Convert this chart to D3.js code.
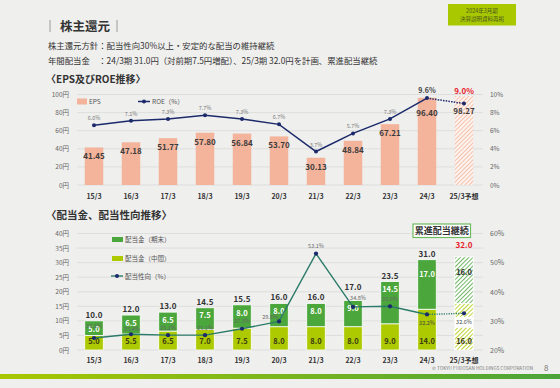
<!DOCTYPE html>
<html>
<head>
<meta charset="utf-8">
<script src="https://cdn.jsdelivr.net/npm/d3@7"></script>
<style>
  body { margin: 0; background: #efefee; }
  svg { display: block; font-family: "Noto Sans CJK JP", "Noto Sans", sans-serif; }
</style>
</head>
<body>
<svg id="chart" width="560" height="388"></svg>
<script>
// ---- data ----
var years = ["15/3", "16/3", "17/3", "18/3", "19/3", "20/3", "21/3", "22/3", "23/3", "24/3", "25/3予想"];
var eps = [41.45, 47.18, 51.77, 57.80, 56.84, 53.70, 30.13, 48.84, 67.21, 96.40, 98.27];
var roe = [6.6, 7.1, 7.3, 7.7, 7.3, 6.7, 3.7, 5.7, 7.3, 9.6, 9.0];
var divMid = [5.0, 5.5, 6.5, 7.0, 7.5, 8.0, 8.0, 8.0, 9.0, 14.0, 16.0];
var divEnd = [5.0, 6.5, 6.5, 7.5, 8.0, 8.0, 8.0, 9.0, 14.5, 17.0, 16.0];
var divTotal = [10.0, 12.0, 13.0, 14.5, 15.5, 16.0, 16.0, 17.0, 23.5, 31.0, 32.0];
var payout = [24.1, 25.4, 25.1, 25.1, 27.3, 29.8, 53.1, 34.8, 35.0, 32.2, 32.6];
var epsTicks = [0, 20, 40, 60, 80, 100];
var roeTicks = [0, 2, 4, 6, 8, 10];
var divTicks = [0, 5, 10, 15, 20, 25, 30, 35, 40];
var payoutTicks = [20, 30, 40, 50, 60];

var salmon = "#f4b49b", navy = "#1b2a6b", green = "#4ba63c", lime = "#adc900", teal = "#2b7b68";
var last = years.length - 1;

var svg = d3.select("#chart");
var defs = svg.append("defs");

function hatch(id, color, bg) {
    var p = defs.append("pattern").attr("id", id)
        .attr("patternUnits", "userSpaceOnUse")
        .attr("width", 3).attr("height", 3)
        .attr("patternTransform", "rotate(45)");
    p.append("rect").attr("width", 3).attr("height", 3).attr("fill", bg);
    p.append("line").attr("x1", 0).attr("y1", 0).attr("x2", 0).attr("y2", 3)
        .attr("stroke", color).attr("stroke-width", 1.6);
}
hatch("hSalmon", salmon, "#fdf3ee");
hatch("hGreen", green, "#ffffff");
hatch("hLime", lime, "#ffffff");

var grad = defs.append("linearGradient").attr("id", "footGrad");
grad.append("stop").attr("offset", "0%").attr("stop-color", "#a9c700");
grad.append("stop").attr("offset", "100%").attr("stop-color", "#4aa33a");

// ---- header ----
svg.append("line").attr("x1", 50).attr("x2", 50).attr("y1", 20).attr("y2", 32).attr("stroke", "#888").attr("stroke-width", 0.8);
svg.append("line").attr("x1", 117).attr("x2", 117).attr("y1", 20).attr("y2", 32).attr("stroke", "#888").attr("stroke-width", 0.8);
svg.append("text").attr("x", 60).attr("y", 30.5).attr("font-size", 12.5).attr("font-weight", "bold").attr("fill", "#333").text("株主還元");

svg.append("rect").attr("x", 448).attr("y", 4).attr("width", 68).attr("height", 21.5).attr("fill", "#a9c800");
svg.append("text").attr("x", 482).attr("y", 12.5).attr("text-anchor", "middle").attr("font-size", 5.5).attr("fill", "#4d5a1e").text("2024年3月期");
svg.append("text").attr("x", 482).attr("y", 21).attr("text-anchor", "middle").attr("font-size", 5.5).attr("fill", "#4d5a1e").text("決算説明資料再掲");

svg.append("text").attr("x", 48).attr("y", 49).attr("font-size", 8.4).attr("fill", "#333")
    .text("株主還元方針：配当性向30%以上・安定的な配当の維持継続");
svg.append("text").attr("x", 48).attr("y", 63.5).attr("font-size", 8.4).attr("fill", "#333")
    .text("年間配当金　：24/3期 31.0円（対前期7.5円増配）、25/3期 32.0円を計画、累進配当継続");

svg.append("text").attr("x", 46).attr("y", 83).attr("font-size", 10).attr("font-weight", "bold").attr("fill", "#333")
    .text("〈EPS及びROE推移〉");
svg.append("text").attr("x", 46).attr("y", 219).attr("font-size", 10.5).attr("font-weight", "bold").attr("fill", "#333")
    .text("〈配当金、配当性向推移〉");

// ---- shared x ----
var x = d3.scaleBand().domain(years).range([75.5, 482.5]).paddingInner(0.5).paddingOuter(0.25);
var bw = x.bandwidth();
function cx(d) { return x(d) + bw / 2; }

function styleAxis(g, size, color, bold) {
    g.select(".domain").remove();
    g.selectAll("text").attr("font-size", size).attr("fill", color)
        .attr("font-family", "\"Noto Sans CJK JP\", sans-serif")
        .attr("font-weight", bold ? "bold" : "normal");
}

// ================= EPS / ROE =================
var yE = d3.scaleLinear().domain([0, 100]).range([185, 94.5]);
var yR = d3.scaleLinear().domain([0, 10]).range([185, 94.5]);

svg.append("g").selectAll("line").data(epsTicks).enter().append("line")
    .attr("x1", 77).attr("x2", 483)
    .attr("y1", function(d) { return yE(d); }).attr("y2", function(d) { return yE(d); })
    .attr("stroke", "#d9d9d9").attr("stroke-width", 0.8);

svg.append("g").attr("transform", "translate(76,0)")
    .call(d3.axisLeft(yE).tickValues(epsTicks).tickSize(0).tickPadding(7).tickFormat(function(d) { return d + "円"; }))
    .call(styleAxis, 6.5, "#666", false);
svg.append("g").attr("transform", "translate(483,0)")
    .call(d3.axisRight(yR).tickValues(roeTicks).tickSize(0).tickPadding(7).tickFormat(function(d) { return d + "%"; }))
    .call(styleAxis, 6.5, "#666", false);
svg.append("g").attr("transform", "translate(0,185)")
    .call(d3.axisBottom(x).tickSize(0).tickPadding(9))
    .call(styleAxis, 7, "#333", true);

svg.append("g").selectAll("rect").data(years).enter().append("rect")
    .attr("x", function(d) { return x(d); })
    .attr("y", function(d, i) { return yE(eps[i]); })
    .attr("width", bw)
    .attr("height", function(d, i) { return yE(0) - yE(eps[i]); })
    .attr("fill", function(d, i) { return i === last ? "url(#hSalmon)" : salmon; });

svg.append("g").selectAll("text").data(years).enter().append("text")
    .attr("x", cx)
    .attr("y", function(d, i) {
        var top = yE(eps[i]), p = yR(roe[i]);
        var c = (p > top - 3 && p - top < 12) ? top + 15 : top + 9;
        return c + 3;
    })
    .attr("text-anchor", "middle").attr("font-size", 8).attr("font-weight", "bold").attr("fill", "#3c3c3c")
    .text(function(d, i) { return eps[i].toFixed(2); });

var roeLine = d3.line().x(function(d) { return cx(d); }).y(function(d) { return yR(roe[years.indexOf(d)]); });
svg.append("path").datum(years.slice(0, last)).attr("d", roeLine)
    .attr("fill", "none").attr("stroke", navy).attr("stroke-width", 1.5);
svg.append("path").datum(years.slice(last - 1)).attr("d", roeLine)
    .attr("fill", "none").attr("stroke", navy).attr("stroke-width", 1.5).attr("stroke-dasharray", "1.5,1.2");
svg.append("g").selectAll("circle").data(years).enter().append("circle")
    .attr("cx", cx).attr("cy", function(d, i) { return yR(roe[i]); }).attr("r", 2).attr("fill", navy);

svg.append("g").selectAll("text").data(years).enter().append("text")
    .attr("x", cx)
    .attr("y", function(d, i) {
        if (i === last) return Math.min(yR(roe[i]) - 9, yE(eps[i]) - 5) + 3;
        return yR(roe[i]) - 7 + 2;
    })
    .attr("text-anchor", "middle")
    .attr("font-size", function(d, i) { return i === last ? 8 : (i === last - 1 ? 7 : 5.5); })
    .attr("font-weight", function(d, i) { return i >= last - 1 ? "bold" : "normal"; })
    .attr("fill", function(d, i) { return i === last ? "#e8202a" : (i === last - 1 ? "#444" : "#777"); })
    .text(function(d, i) { return roe[i].toFixed(1) + "%"; });

// legend
svg.append("rect").attr("x", 77).attr("y", 98.5).attr("width", 10).attr("height", 6).attr("fill", salmon);
svg.append("text").attr("x", 89).attr("y", 104).attr("font-size", 6.5).attr("fill", "#555").text("EPS");
svg.append("line").attr("x1", 138).attr("x2", 150).attr("y1", 101.5).attr("y2", 101.5).attr("stroke", navy).attr("stroke-width", 1.5);
svg.append("circle").attr("cx", 144).attr("cy", 101.5).attr("r", 2).attr("fill", navy);
svg.append("text").attr("x", 152).attr("y", 104).attr("font-size", 6.5).attr("fill", "#555").text("ROE（%）");

// ================= Dividend / payout =================
var yD = d3.scaleLinear().domain([0, 40]).range([350, 233.5]);
var yP = d3.scaleLinear().domain([20, 60]).range([350, 233.5]);

svg.append("g").selectAll("line").data(divTicks).enter().append("line")
    .attr("x1", 77).attr("x2", 483)
    .attr("y1", function(d) { return yD(d); }).attr("y2", function(d) { return yD(d); })
    .attr("stroke", "#d9d9d9").attr("stroke-width", 0.8);

svg.append("g").attr("transform", "translate(76,0)")
    .call(d3.axisLeft(yD).tickValues(divTicks).tickSize(0).tickPadding(7).tickFormat(function(d) { return d + "円"; }))
    .call(styleAxis, 6.5, "#666", false);
svg.append("g").attr("transform", "translate(483,0)")
    .call(d3.axisRight(yP).tickValues(payoutTicks).tickSize(0).tickPadding(7).tickFormat(function(d) { return d + "%"; }))
    .call(styleAxis, 7, "#666", false);
svg.append("g").attr("transform", "translate(0,350)")
    .call(d3.axisBottom(x).tickSize(0).tickPadding(8))
    .call(styleAxis, 7, "#333", true);

var bars = svg.append("g");
bars.selectAll("rect.mid").data(years).enter().append("rect").attr("class", "mid")
    .attr("x", function(d) { return x(d); })
    .attr("y", function(d, i) { return yD(divMid[i]); })
    .attr("width", bw)
    .attr("height", function(d, i) { return yD(0) - yD(divMid[i]); })
    .attr("fill", function(d, i) { return i === last ? "url(#hLime)" : lime; })
    .attr("stroke", "#fff").attr("stroke-width", 0.8);
bars.selectAll("rect.end").data(years).enter().append("rect").attr("class", "end")
    .attr("x", function(d) { return x(d); })
    .attr("y", function(d, i) { return yD(divTotal[i]); })
    .attr("width", bw)
    .attr("height", function(d, i) { return yD(divMid[i]) - yD(divTotal[i]); })
    .attr("fill", function(d, i) { return i === last ? "url(#hGreen)" : green; })
    .attr("stroke", "#fff").attr("stroke-width", 0.8);

// progressive dividend box
svg.append("rect").attr("x", 413).attr("y", 224).attr("width", 57.5).attr("height", 13.5)
    .attr("fill", "#fff").attr("stroke", "#6dbb5e").attr("stroke-width", 1.2);
svg.append("text").attr("x", 441.7).attr("y", 234.2).attr("text-anchor", "middle")
    .attr("font-size", 9).attr("font-weight", "bold").attr("fill", "#333").text("累進配当継続");

// total labels
svg.append("g").selectAll("text").data(years).enter().append("text")
    .attr("x", cx)
    .attr("y", function(d, i) {
        var off = i === last ? 12 : (i === 7 ? 13 : 6);
        return yD(divTotal[i]) - off + 3;
    })
    .attr("text-anchor", "middle").attr("font-size", 8).attr("font-weight", "bold")
    .attr("fill", function(d, i) { return i === last ? "#e8202a" : "#333"; })
    .text(function(d, i) { return divTotal[i].toFixed(1); });

// year-end labels
svg.append("g").selectAll("text").data(years).enter().append("text")
    .attr("x", cx)
    .attr("y", function(d, i) { return yD(divTotal[i]) + (i >= last - 1 ? 15 : 8) + 2.7; })
    .attr("text-anchor", "middle").attr("font-size", 7.5).attr("font-weight", "bold")
    .attr("fill", function(d, i) { return i === last ? "#333" : "#fff"; })
    .text(function(d, i) { return divEnd[i].toFixed(1); });

// interim labels
svg.append("g").selectAll("text").data(years).enter().append("text")
    .attr("x", cx)
    .attr("y", yD(0) - 8.5 + 2.7)
    .attr("text-anchor", "middle").attr("font-size", 7.5).attr("font-weight", "bold").attr("fill", "#3a3a10")
    .text(function(d, i) { return divMid[i].toFixed(1); });

// payout line
var payLine = d3.line().x(function(d) { return cx(d); }).y(function(d) { return yP(payout[years.indexOf(d)]); });
svg.append("path").datum(years.slice(0, last)).attr("d", payLine)
    .attr("fill", "none").attr("stroke", teal).attr("stroke-width", 1.4);
svg.append("path").datum(years.slice(last - 1)).attr("d", payLine)
    .attr("fill", "none").attr("stroke", teal).attr("stroke-width", 1.4).attr("stroke-dasharray", "1.2,1.2");
svg.append("g").selectAll("circle").data(years).enter().append("circle")
    .attr("cx", cx).attr("cy", function(d, i) { return yP(payout[i]); }).attr("r", 2.1).attr("fill", navy);

// payout labels
function payPos(i) {
    var px = cx(years[i]), py = yP(payout[i]);
    if (i === 0) return [px, py - 12, "middle"];
    if (i === 1) return [px + 1, py - 5, "middle"];
    if (i === 5) return [px - 1, py - 4, "end"];
    if (i === 7) return [px + 5, py - 9, "middle"];
    if (i >= last - 1) return [px, py + 9, "middle"];
    return [px, py - 7.5, "middle"];
}
var pl = svg.append("g");
pl.append("rect").attr("x", cx(years[last]) - 9).attr("y", payPos(last)[1] - 5.5)
    .attr("width", 18).attr("height", 11).attr("fill", "#fff");
pl.selectAll("text").data(years).enter().append("text")
    .attr("x", function(d, i) { return payPos(i)[0]; })
    .attr("y", function(d, i) { return payPos(i)[1] + 2; })
    .attr("text-anchor", function(d, i) { return payPos(i)[2]; })
    .attr("font-size", 5.5)
    .attr("fill", function(d, i) { return i >= last - 1 ? "#444" : "#666"; })
    .text(function(d, i) { return payout[i].toFixed(1) + "%"; });

// legend
svg.append("rect").attr("x", 112).attr("y", 237).attr("width", 11).attr("height", 5).attr("fill", green);
svg.append("text").attr("x", 125).attr("y", 242).attr("font-size", 6.5).attr("fill", "#555").text("配当金（期末）");
svg.append("rect").attr("x", 112).attr("y", 256).attr("width", 11).attr("height", 5).attr("fill", lime);
svg.append("text").attr("x", 125).attr("y", 261).attr("font-size", 6.5).attr("fill", "#555").text("配当金（中間）");
svg.append("line").attr("x1", 111).attr("x2", 123).attr("y1", 276).attr("y2", 276).attr("stroke", teal).attr("stroke-width", 1.4);
svg.append("circle").attr("cx", 117).attr("cy", 276).attr("r", 2).attr("fill", navy);
svg.append("text").attr("x", 125).attr("y", 278.5).attr("font-size", 6.5).attr("fill", "#555").text("配当性向（%）");

// ---- footer ----
svg.append("text").attr("x", 432).attr("y", 369.5).attr("font-size", 4.6).attr("fill", "#777")
    .attr("textLength", 101).text("© TOKYU FUDOSAN HOLDINGS CORPORATION");
svg.append("text").attr("x", 544).attr("y", 370.5).attr("font-size", 8).attr("fill", "#777").text("8");
svg.append("rect").attr("x", 0).attr("y", 374).attr("width", 560).attr("height", 5).attr("fill", "url(#footGrad)");
</script>
</body>
</html>
